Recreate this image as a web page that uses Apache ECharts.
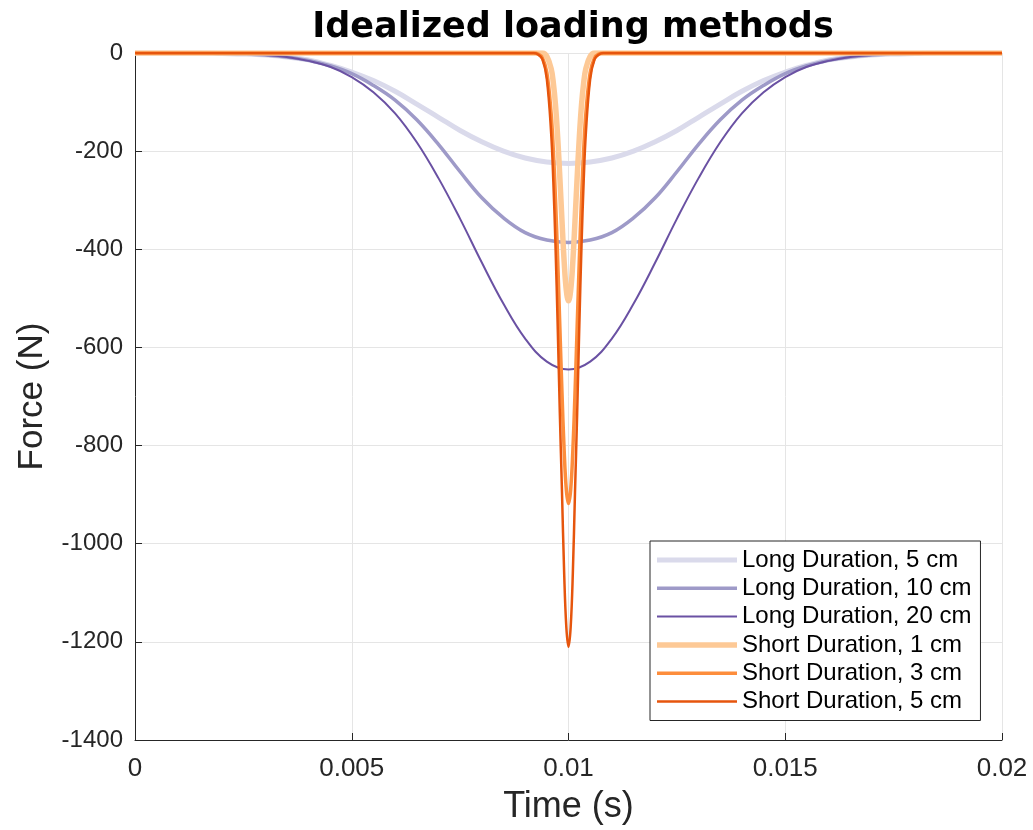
<!DOCTYPE html>
<html>
<head>
<meta charset="utf-8">
<title>Idealized loading methods</title>
<script src="https://cdn.jsdelivr.net/npm/echarts@6/dist/echarts.min.js"></script>
<style>
  html, body { margin: 0; padding: 0; background: #fff; }
  #chart { width: 1033px; height: 830px; }
</style>
</head>
<body>
<div id="chart"></div>
<script>
// time points (s) for the long duration pulses, 0 .. 0.02
const longTime = [
  0, 0.0005, 0.001, 0.0015, 0.002, 0.0025, 0.003, 0.0035, 0.004, 0.0045,
  0.005, 0.0055, 0.006, 0.0065, 0.007, 0.0075, 0.008, 0.0085, 0.009, 0.0095,
  0.01,
  0.0105, 0.011, 0.0115, 0.012, 0.0125, 0.013, 0.0135, 0.014, 0.0145, 0.015,
  0.0155, 0.016, 0.0165, 0.017, 0.0175, 0.018, 0.0185, 0.019, 0.0195, 0.02
];
// force (N)
const long5 = [
  0, 0, 0, 0, -1, -2, -4, -8, -14, -25,
  -39, -56, -78, -104, -131, -158, -181, -200, -214, -222,
  -225,
  -222, -214, -200, -181, -158, -131, -104, -78, -56, -39,
  -25, -14, -8, -4, -2, -1, 0, 0, 0, 0
];
const long10 = [
  0, 0, 0, 0, -1, -2, -4, -8, -15, -26,
  -42, -66, -96, -136, -186, -242, -295, -336, -366, -381,
  -386,
  -381, -366, -336, -295, -242, -186, -136, -96, -66, -42,
  -26, -15, -8, -4, -2, -1, 0, 0, 0, 0
];
const long20 = [
  0, 0, 0, 0, -1, -2, -4, -8, -16, -28,
  -49, -80, -123, -182, -255, -338, -427, -511, -582, -629,
  -645,
  -629, -582, -511, -427, -338, -255, -182, -123, -80, -49,
  -28, -16, -8, -4, -2, -1, 0, 0, 0, 0
];

// time points (s) for the short duration pulses
const shortTime = [
  0, 0.009, 0.0092, 0.0093, 0.0094, 0.0095, 0.0096, 0.00965, 0.0097, 0.00975,
  0.0098, 0.00985, 0.0099, 0.00995, 0.01, 0.01005, 0.0101, 0.01015, 0.0102,
  0.01025, 0.0103, 0.01035, 0.0104, 0.0105, 0.0106, 0.0107, 0.0108, 0.011, 0.02
];
const short1 = [
  0, 0, 0, 0, 0, -7, -32, -61, -106, -171,
  -253, -342, -425, -484, -505, -484, -425, -342, -253,
  -171, -106, -61, -32, -7, 0, 0, 0, 0, 0
];
const short3 = [
  0, 0, 0, -2, -10, -40, -124, -198, -298, -420,
  -557, -693, -810, -890, -918, -890, -810, -693, -557,
  -420, -298, -198, -124, -40, -10, -2, 0, 0, 0
];
const short5 = [
  0, 0, 0, -3, -13, -53, -164, -262, -393, -554,
  -734, -895, -1060, -1170, -1210, -1170, -1060, -895, -734,
  -554, -393, -262, -164, -53, -13, -3, 0, 0, 0
];

const seriesNames = [
  'Long Duration, 5 cm', 'Long Duration, 10 cm', 'Long Duration, 20 cm',
  'Short Duration, 1 cm', 'Short Duration, 3 cm', 'Short Duration, 5 cm'
];
const seriesColors = ['#dadaeb', '#9e9ac8', '#6a51a3', '#fdc996', '#fd8d3c', '#e6550d'];
const seriesWidths = [5, 3.5, 2, 5.5, 3.5, 2.5];

function pairs(xs, ys) {
  return xs.map((x, i) => [x, ys[i]]);
}
const seriesData = [
  pairs(longTime, long5), pairs(longTime, long10), pairs(longTime, long20),
  pairs(shortTime, short1), pairs(shortTime, short3), pairs(shortTime, short5)
];

// legend sample: a bar of width w centred in an 80x20 box
// (the zero length moves keep the box size so the bar is not stretched)
function lineIcon(w) {
  const a = 10 - w / 2, b = 10 + w / 2;
  return 'path://M0,0L0,0M80,20L80,20M0,' + a + 'H80V' + b + 'H0Z';
}

const font = 'Liberation Sans, Arial, sans-serif';
const ink = '#262626';

const chart = echarts.init(document.getElementById('chart'));
chart.setOption({
  backgroundColor: '#fff',
  animation: false,
  title: {
    text: 'Idealized loading methods',
    left: 568, top: 5, textAlign: 'center',
    textStyle: { fontFamily: 'DejaVu Sans, sans-serif', fontSize: 35, fontWeight: 'bold', color: '#000' }
  },
  grid: { left: 135, right: 31, top: 53, bottom: 90, containLabel: false },
  legend: {
    orient: 'vertical',
    left: 650, top: 541,
    padding: [7, 9, 7, 7],
    itemWidth: 80, itemHeight: 20, itemGap: 4.3,
    backgroundColor: '#fff',
    borderColor: ink, borderWidth: 1,
    textStyle: { fontFamily: font, fontSize: 24, color: '#000' },
    data: seriesNames.map((name, i) => ({ name: name, icon: lineIcon(seriesWidths[i]) }))
  },
  xAxis: {
    type: 'value', min: 0, max: 0.02, interval: 0.005,
    name: 'Time (s)', nameLocation: 'middle', nameGap: 49,
    nameTextStyle: { fontFamily: font, fontSize: 36, color: ink },
    axisLine: { show: true, onZero: false, lineStyle: { color: ink, width: 1 } },
    axisTick: { show: true, inside: true, length: 7, lineStyle: { color: ink } },
    axisLabel: {
      fontFamily: font, fontSize: 26, color: ink, margin: 16,
      formatter: v => String(+v.toFixed(3))
    },
    splitLine: { show: true, lineStyle: { color: '#e5e5e5', width: 1 } }
  },
  yAxis: {
    type: 'value', min: -1400, max: 0, interval: 200,
    name: 'Force (N)', nameLocation: 'middle', nameGap: 85,
    nameTextStyle: { fontFamily: font, fontSize: 35, color: ink },
    axisLine: { show: true, onZero: false, lineStyle: { color: ink, width: 1 } },
    axisTick: { show: true, inside: true, length: 7, lineStyle: { color: ink } },
    axisLabel: { fontFamily: font, fontSize: 24, color: ink, margin: 12, formatter: v => String(v) },
    splitLine: { show: true, lineStyle: { color: '#e5e5e5', width: 1 } }
  },
  series: seriesNames.map((name, i) => ({
    name: name,
    type: 'line',
    data: seriesData[i],
    smooth: 0.4,
    symbol: 'none',
    clip: true,
    color: seriesColors[i],
    lineStyle: { color: seriesColors[i], width: seriesWidths[i] },
    z: 2 + i
  }))
});
</script>
</body>
</html>
